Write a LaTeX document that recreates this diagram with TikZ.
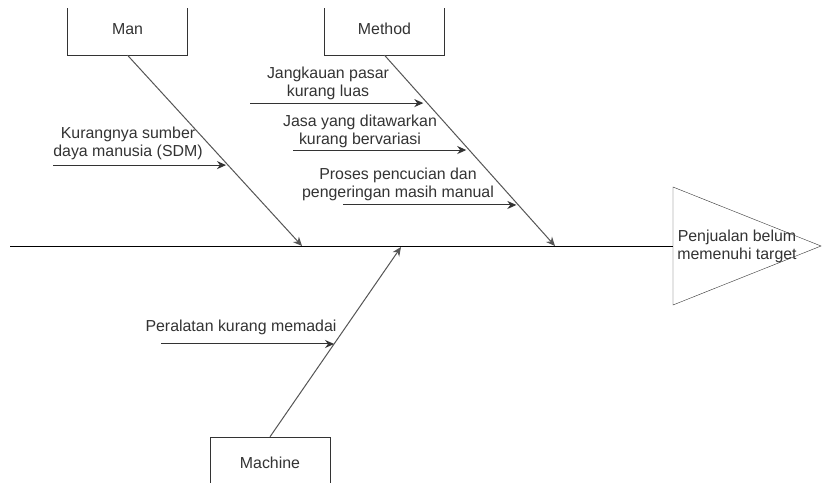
\documentclass[tikz,border=0pt]{standalone}
\usepackage{fontspec}
\setmainfont{Liberation Sans}
\usetikzlibrary{positioning,calc,arrows.meta}
\definecolor{ink}{HTML}{333333}
\definecolor{bone}{HTML}{555555}
\newcommand{\lbl}{\fontsize{15.9}{18}\selectfont}
\tikzstyle{cat} = [draw=ink, minimum width=120pt, minimum height=52pt, inner sep=0pt, text=ink]
\tikzstyle{cause} = [align=center, text=ink, inner sep=0pt]
\tikzstyle{arrow} = [-{Stealth[length=9pt,width=8pt]}, line width=1pt]

\begin{document}
\begin{tikzpicture}[x=1pt,y=-1pt,font=\lbl]
      \useasboundingbox (0,0) rectangle (822,482);
      \fill[white] (0,0) rectangle (822,482);
      %%%%%%%%%%%%%%%%%%%%%%%%%%%%%%%%%%%%%%%
      \begin{scope}
      \clip (0,8) rectangle (822,482);
      \node[cat] (man) at (127.5,29) {Man};
      \node[cat] (method) at (384.5,29) {Method};
      \node[cat] (machine) at (270,463) {Machine};
      \end{scope}
      %%%%%%%%%%%%%%%%%%%%%%%%%%%%%%%%%%%%%%%
      \coordinate (tail) at (10,246);
      \coordinate (head) at (673,246);
      \draw[ink] (673,187) -- (821,246) -- (673,305) -- cycle;
      \node[cause] (effect) at (737,246) {Penjualan belum\\memenuhi target};
      \draw[line width=1pt] (tail)--(head);
      %%%%%%%%%%%%%%%%%%%%%%%%%%%%%%%%%%%%%%%
      \coordinate (j1) at (302,246);
      \coordinate (j2) at (555,246);
      \coordinate (j3) at (401,247);
      \draw[arrow,bone] (man.south)--(j1);
      \draw[arrow,bone] (method.south)--(j2);
      \draw[arrow,bone] (machine.north)--(j3);
      %%%%%%%%%%%%%%%%%%%%%%%%%%%%%%%%%%%%%%%
      \coordinate (e1) at ($(man.south)!0.576!(j1)+(-2,0)$);
      \coordinate (e2) at ($(method.south)!0.251!(j2)+(-4,0)$);
      \coordinate (e3) at ($(method.south)!0.497!(j2)+(-3,0)$);
      \coordinate (e4) at ($(method.south)!0.785!(j2)+(-2,0)$);
      \coordinate (e5) at ($(machine.north)!0.489!(j3)$);
      \coordinate (s1) at ($(e1)+(-173,0)$);
      \coordinate (s2) at ($(e2)+(-173,0)$);
      \coordinate (s3) at ($(e3)+(-173,0)$);
      \coordinate (s4) at ($(e4)+(-173,0)$);
      \coordinate (s5) at ($(e5)+(-173,0)$);
      \draw[arrow,ink] (s1)--(e1);
      \draw[arrow,ink] (s2)--(e2);
      \draw[arrow,ink] (s3)--(e3);
      \draw[arrow,ink] (s4)--(e4);
      \draw[arrow,ink] (s5)--(e5);
      %%%%%%%%%%%%%%%%%%%%%%%%%%%%%%%%%%%%%%%
      \node[cause] (c1) at (128,143) {Kurangnya sumber\\daya manusia (SDM)};
      \node[cause] (c2) at (328,83) {Jangkauan pasar\\kurang luas};
      \node[cause] (c3) at (360,131) {Jasa yang ditawarkan\\kurang bervariasi};
      \node[cause] (c4) at (398,184) {Proses pencucian dan\\pengeringan masih manual};
      \node[cause] (c5) at (241,327) {Peralatan kurang memadai};
\end{tikzpicture}
\end{document}
